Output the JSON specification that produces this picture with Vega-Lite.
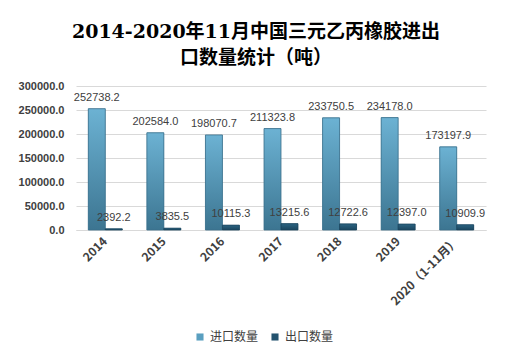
{
  "$schema": "https://vega.github.io/schema/vega-lite/v6.json",
  "width": 410,
  "height": 144,
  "autosize": {"type": "none"},
  "padding": {"left": 76, "top": 86, "right": 25, "bottom": 134},
  "background": "white",
  "title": {
    "text": ["2014-2020年11月中国三元乙丙橡胶进出", "口数量统计（吨）"],
    "font": "DejaVu Serif, Noto Sans CJK SC",
    "fontSize": 19,
    "fontWeight": "bold",
    "color": "#000000",
    "anchor": "middle",
    "frame": "group",
    "dx": -25,
    "offset": 12,
    "lineHeight": 26
  },
  "data": {
    "values": [
      {"year": "2014", "series": "进口数量", "value": 252738.2},
      {"year": "2015", "series": "进口数量", "value": 202584.0},
      {"year": "2016", "series": "进口数量", "value": 198070.7},
      {"year": "2017", "series": "进口数量", "value": 211323.8},
      {"year": "2018", "series": "进口数量", "value": 233750.5},
      {"year": "2019", "series": "进口数量", "value": 234178.0},
      {"year": "2020（1-11月）", "series": "进口数量", "value": 173197.9},
      {"year": "2014", "series": "出口数量", "value": 2392.2},
      {"year": "2015", "series": "出口数量", "value": 3835.5},
      {"year": "2016", "series": "出口数量", "value": 10115.3},
      {"year": "2017", "series": "出口数量", "value": 13215.6},
      {"year": "2018", "series": "出口数量", "value": 12722.6},
      {"year": "2019", "series": "出口数量", "value": 12397.0},
      {"year": "2020（1-11月）", "series": "出口数量", "value": 10909.9}
    ]
  },
  "encoding": {
    "x": {
      "field": "year",
      "type": "nominal",
      "sort": null,
      "title": null,
      "scale": {"paddingInner": 0.42, "paddingOuter": 0.21},
      "axis": {
        "labelAngle": -45,
        "labelAlign": "right",
        "labelBaseline": "middle",
        "labelPadding": 9,
        "labelFont": "Noto Sans CJK SC",
        "labelFontSize": 12,
        "labelFontWeight": "bold",
        "labelColor": "#404040",
        "ticks": false,
        "domainColor": "#d9d9d9",
        "grid": false
      }
    },
    "xOffset": {
      "field": "series",
      "type": "nominal",
      "sort": ["进口数量", "出口数量"],
      "scale": {"paddingInner": 0, "paddingOuter": 0}
    },
    "y": {
      "field": "value",
      "type": "quantitative",
      "title": null,
      "scale": {"domain": [0, 300000], "nice": false},
      "axis": {
        "values": [0, 50000, 100000, 150000, 200000, 250000, 300000],
        "format": ".1f",
        "domain": false,
        "ticks": false,
        "labelPadding": 12,
        "labelFont": "Liberation Sans",
        "labelFontSize": 11,
        "labelFontWeight": "bold",
        "labelColor": "#404040",
        "gridColor": "#d9d9d9"
      }
    }
  },
  "layer": [
    {
      "mark": {"type": "bar"},
      "encoding": {
        "color": {
          "field": "series",
          "type": "nominal",
          "sort": ["进口数量", "出口数量"],
          "scale": {"range": ["#5a9fc0", "#24536f"]},
          "legend": {
            "title": null,
            "orient": "none",
            "direction": "horizontal",
            "legendX": 118,
            "legendY": 245,
            "symbolType": "square",
            "symbolSize": 50,
            "symbolStrokeWidth": 0,
            "labelFont": "Noto Sans CJK SC",
            "labelFontSize": 12,
            "labelColor": "#404040",
            "columnPadding": 10
          }
        }
      }
    },
    {
      "transform": [{"filter": "datum.series === '进口数量'"}],
      "mark": {
        "type": "bar",
        "fill": {
          "gradient": "linear", "x1": 0, "y1": 0, "x2": 0, "y2": 1,
          "stops": [{"offset": 0, "color": "#6cb2d3"}, {"offset": 1, "color": "#3c7591"}]
        },
        "stroke": "#3a6f8a",
        "strokeWidth": 0.8
      }
    },
    {
      "transform": [{"filter": "datum.series === '出口数量'"}],
      "mark": {
        "type": "bar",
        "fill": {
          "gradient": "linear", "x1": 0, "y1": 0, "x2": 0, "y2": 1,
          "stops": [{"offset": 0, "color": "#2b6482"}, {"offset": 1, "color": "#1b455e"}]
        },
        "stroke": "#1b455e",
        "strokeWidth": 0.8
      }
    },
    {
      "mark": {"type": "text", "baseline": "bottom", "dy": -6, "font": "Liberation Sans", "fontSize": 11, "color": "#404040"},
      "encoding": {
        "text": {"field": "value", "type": "quantitative", "format": ".1f"}
      }
    }
  ],
  "config": {
    "view": {"stroke": null}
  }
}
